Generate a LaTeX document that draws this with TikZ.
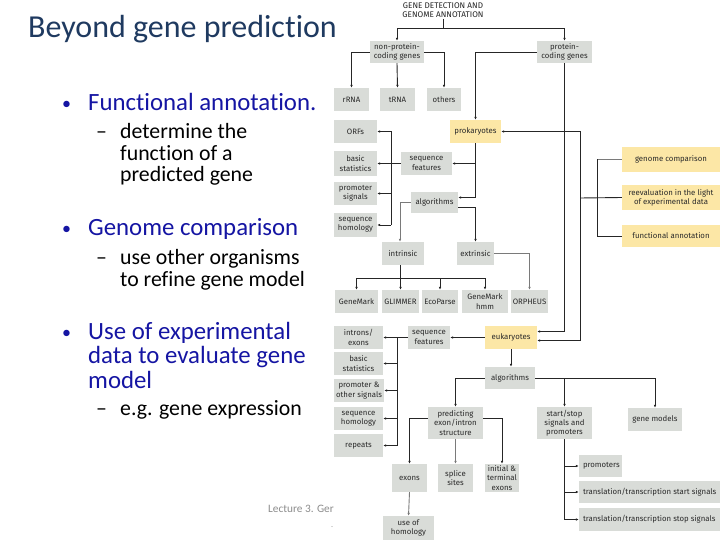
\documentclass[tikz,border=0pt]{standalone}
\usepackage{fontspec}
\setmainfont{Carlito}[Ligatures=NoCommon]
\newfontfamily\boxfont{Fira Sans}
\usetikzlibrary{arrows.meta}
\definecolor{gboxc}{HTML}{D9DCD8}
\definecolor{yboxc}{HTML}{FCE7A6}
\definecolor{titlec}{HTML}{1F3A60}
\definecolor{bulc}{HTML}{1515A3}
\definecolor{linec}{HTML}{262626}
\definecolor{glinec}{HTML}{7A7A7A}
\definecolor{boxtxt}{HTML}{2A2A2A}
\definecolor{footc}{HTML}{8C8C8C}
\tikzset{
 btext/.style={inner sep=1pt, align=center, font=\boxfont\fontsize{7.8}{9.3}\selectfont, text=boxtxt},
 gbox/.style={btext, fill=gboxc, draw=none},
 ybox/.style={gbox, fill=yboxc},
 conn/.style={draw=linec, line width=0.9pt},
 arr/.style={conn, -{Latex[length=3pt,width=2.6pt]}},
 garr/.style={arr, draw=glinec},
 gconn/.style={conn, draw=glinec},
 lvone/.style={anchor=base west, font=\fontsize{24.8}{30}\selectfont, text=bulc, inner sep=0pt},
 lvtwo/.style={anchor=base west, font=\fontsize{21.8}{26}\selectfont, text=black, inner sep=0pt},
}
\begin{document}
\begin{tikzpicture}[x=1pt,y=-1pt]
\useasboundingbox[fill=white] (0,0) rectangle (720,540);

% ---------- left slide text ----------
\node[anchor=base west, font=\fontsize{32}{36}\selectfont, text=titlec, inner sep=0pt] (ttl) at (28,38) {Beyond gene prediction};
\node[lvone, font=\fontsize{18}{30}\selectfont] (b1dot) at (62,110) {•};
\node[lvone] (b1) at (88,111) {Functional annotation.};
\node[lvtwo] (d1) at (96,139) {–};
\node[lvtwo] (s1a) at (120,139) {determine the};
\node[lvtwo] (s1b) at (120,160.5) {function of a};
\node[lvtwo] (s1c) at (120,182) {predicted gene};
\node[lvone, font=\fontsize{18}{30}\selectfont] (b2dot) at (62,235) {•};
\node[lvone] (b2) at (88,236) {Genome comparison};
\node[lvtwo] (d2) at (96,264) {–};
\node[lvtwo] (s2a) at (120,264) {use other organisms};
\node[lvtwo] (s2b) at (120,286) {to refine gene model};
\node[lvone, font=\fontsize{18}{30}\selectfont] (b3dot) at (62,338) {•};
\node[lvone] (b3a) at (88,339) {Use of experimental};
\node[lvone] (b3b) at (88,363.5) {data to evaluate gene};
\node[lvone] (b3c) at (88,388) {model};
\node[lvtwo] (d3) at (96,415) {–};
\node[lvtwo] (s3a) at (120,415) {e.g. gene expression};
\node[anchor=base west, font=\fontsize{11.3}{13}\selectfont, text=footc, inner sep=0pt] (foot) at (268,512) {Lecture 3. Ger};
\node[anchor=base west, font=\fontsize{8}{9}\selectfont, text=footc, inner sep=0pt] (footdot) at (331,527) {.};

% ---------- diagram boxes ----------
\node[btext, font=\boxfont\fontsize{8.2}{9}\selectfont, text=linec] (title) at (443,10) {GENE DETECTION AND\\GENOME ANNOTATION};
\node[gbox, minimum width=54pt, minimum height=22pt] (npc) at (397,52) {non-protein-\\coding genes};
\node[gbox, minimum width=55pt, minimum height=22pt] (pc) at (564.5,52) {protein-\\coding genes};
\node[gbox, minimum width=35pt, minimum height=23pt] (rRNA) at (351.5,99.5) {rRNA};
\node[gbox, minimum width=35pt, minimum height=23pt] (tRNA) at (397.5,99.5) {tRNA};
\node[gbox, minimum width=34pt, minimum height=23pt] (others) at (444,99.5) {others};
\node[ybox, minimum width=51pt, minimum height=23pt] (prok) at (475.5,131.5) {prokaryotes};
\node[gbox, minimum width=43pt, minimum height=23pt] (ORFs) at (355.5,131.5) {ORFs};
\node[gbox, minimum width=43pt, minimum height=25pt] (bstat1) at (355.5,163.5) {basic\\statistics};
\node[gbox, minimum width=43pt, minimum height=23pt] (psig) at (355.5,193.5) {promoter\\signals};
\node[gbox, minimum width=43pt, minimum height=24pt] (shom1) at (355.5,225) {sequence\\homology};
\node[gbox, minimum width=51pt, minimum height=23pt] (sf1) at (426.5,163.5) {sequence\\features};
\node[gbox, minimum width=47pt, minimum height=21pt] (alg1) at (434.5,202.5) {algorithms};
\node[gbox, minimum width=42pt, minimum height=23pt] (intr) at (403,253.5) {intrinsic};
\node[gbox, minimum width=37pt, minimum height=23pt] (extr) at (475.5,253.5) {extrinsic};
\node[gbox, minimum width=43pt, minimum height=23pt] (GeneMark) at (356.5,301.5) {GeneMark};
\node[gbox, minimum width=37pt, minimum height=23pt] (GLIMMER) at (400.5,301.5) {GLIMMER};
\node[gbox, minimum width=36pt, minimum height=23pt] (EcoParse) at (440,301.5) {EcoParse};
\node[gbox, minimum width=46pt, minimum height=23pt] (GMhmm) at (485,301.5) {GeneMark\\hmm};
\node[gbox, minimum width=37pt, minimum height=23pt] (ORPHEUS) at (529.5,301.5) {ORPHEUS};
\node[ybox, minimum width=98pt, minimum height=25pt] (gc) at (671,159.5) {genome comparison};
\node[ybox, minimum width=98pt, minimum height=25pt] (reeval) at (671,197.5) {reevaluation in the light\\of experimental data};
\node[ybox, minimum width=98pt, minimum height=22pt] (fa) at (671,236) {functional annotation};
\node[ybox, minimum width=52pt, minimum height=23pt] (euk) at (511,337.5) {eukaryotes};
\node[gbox, minimum width=42pt, minimum height=23pt] (sf2) at (429,337.5) {sequence\\features};
\node[gbox, minimum width=49pt, minimum height=23pt] (intex) at (358.5,337.5) {introns/\\exons};
\node[gbox, minimum width=49pt, minimum height=23pt] (bstat2) at (358.5,363.5) {basic\\statistics};
\node[gbox, minimum width=50pt, minimum height=23pt] (poth) at (359,390.5) {promoter \&\\other signals};
\node[gbox, minimum width=49pt, minimum height=23pt] (shom2) at (358.5,418.5) {sequence\\homology};
\node[gbox, minimum width=49pt, minimum height=23pt] (repeats) at (358.5,445.5) {repeats};
\node[gbox, minimum width=50pt, minimum height=22pt] (alg2) at (510,378) {algorithms};
\node[gbox, minimum width=55pt, minimum height=32pt] (pred) at (455.5,423) {predicting\\exon/intron\\structure};
\node[gbox, minimum width=35pt, minimum height=28pt] (exons) at (409.5,478) {exons};
\node[gbox, minimum width=35pt, minimum height=28pt] (splice) at (455.5,478) {splice\\sites};
\node[gbox, minimum width=34pt, minimum height=28pt] (initerm) at (502,478) {initial \&\\terminal\\exons};
\node[gbox, minimum width=51pt, minimum height=24pt] (usehom) at (408.5,528) {use of\\homology};
\node[gbox, minimum width=55pt, minimum height=32pt] (startstop) at (564.5,423) {start/stop\\signals and\\promoters};
\node[gbox, minimum width=54pt, minimum height=23pt] (genemodels) at (655,419.5) {gene models};
\node[gbox, minimum width=43pt, minimum height=22pt] (promoters) at (600.5,466) {};
\node[btext, anchor=west] (promt) at ([xshift=3pt]promoters.west) {promoters};
\node[gbox, minimum width=141pt, minimum height=22pt] (tstart) at (649.5,492) {};
\node[btext, anchor=west] (tstartt) at ([xshift=3pt]tstart.west) {translation/transcription start signals};
\node[gbox, minimum width=141pt, minimum height=23pt] (tstop) at (649.5,519.5) {};
\node[btext, anchor=west] (tstopt) at ([xshift=3pt]tstop.west) {translation/transcription stop signals};

% ---------- connectors ----------
\coordinate (tj) at (443,28);
\draw[conn] (title.south) -- (tj);
\draw[arr] (tj) -| (npc.north);
\draw[arr] (tj) -| (pc.north);
\draw[arr] (npc.west) -| (rRNA.north);
\draw[arr] (npc.south) -- (tRNA.north);
\draw[arr] (npc.east) -| (others.north);
\draw[arr] (pc.west) -| (prok.north);
\draw[arr] (pc.south) |- ([yshift=6pt]euk.east);

\coordinate (fb) at (580,198);
\coordinate (br1) at (597,159.5);
\coordinate (br2) at (597,236);
\draw[arr] (fb) |- (prok.east);
\draw[arr] (fb) |- ([yshift=-3pt]euk.east);
\draw[conn] (fb) -- (reeval.west);
\draw[gconn] (gc.west) -- (br1);
\draw[conn] (br1) -- (br2) -- (fa.west);

\draw[arr] (prok.south) |- ([yshift=5pt]alg1.east);
\draw[arr] (prok.south |- sf1.east) -- (sf1.east);
\coordinate (v1) at (391,0);
\draw[arr] (sf1.west) -- (bstat1.east);
\draw[conn] (v1 |- ORFs.east) -- (v1 |- shom1.east);
\foreach \n in {ORFs,psig,shom1} \draw[arr] (v1 |- \n.east) -- (\n.east);
\draw[garr] (alg1.west) -| ([xshift=-3pt]intr.north);
\draw[arr] ([yshift=-4.5pt]alg1.east) -| (extr.north);
\coordinate (ij) at (400,278);
\draw[conn] ([xshift=-3pt]intr.south) -- (ij);
\foreach \n in {GeneMark,GLIMMER,EcoParse,GMhmm} \draw[arr] (ij) -| (\n.north);
\draw[garr] (extr.east) -| (ORPHEUS.north);

\draw[arr] (euk.west) -- (sf2.east);
\coordinate (v2) at (397,0);
\draw[arr] (sf2.west) -- (intex.east);
\draw[conn] (v2 |- intex.east) -- (v2 |- repeats.east);
\foreach \n in {bstat2,poth,shom2,repeats} \draw[arr] (v2 |- \n.east) -- (\n.east);
\draw[arr] (euk.south) -- (euk.south |- alg2.north);
\draw[arr] (alg2.west) -| (pred.north);
\draw[arr] ([yshift=5pt]pred.west) -| (exons.north);
\draw[garr] (pred.south) -- (splice.north);
\draw[arr] ([yshift=5pt]pred.east) -| (initerm.north);
\draw[garr] (exons.south) -- (usehom.north);
\draw[arr] (alg2.east) -| (genemodels.north);
\draw[arr] (alg2.east -| startstop.north) -- (startstop.north);
\draw[arr] (startstop.south) |- (tstop.west);
\draw[arr] (startstop.south |- promoters.west) -- (promoters.west);
\draw[arr] (startstop.south |- tstart.west) -- (tstart.west);
\end{tikzpicture}
\end{document}
